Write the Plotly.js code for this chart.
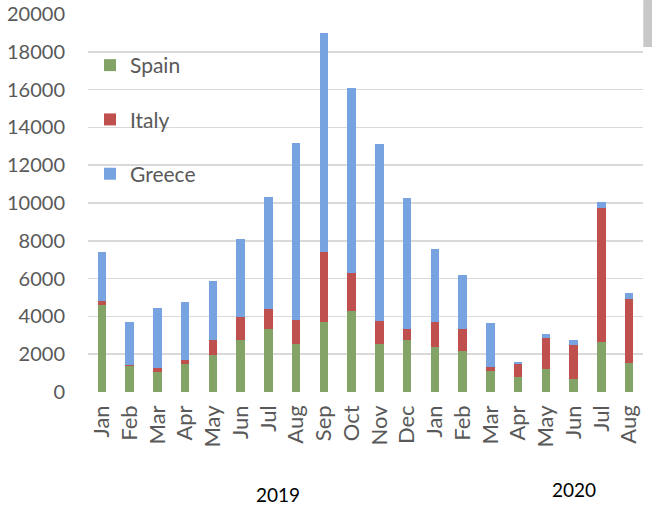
<!DOCTYPE html>
<html>
<head>
<meta charset="utf-8">
<script src="https://cdn.plot.ly/plotly-3.0.1.min.js"></script>
<style>html,body{margin:0;padding:0;background:#fff;}#chart{width:652px;height:510px;}</style>
</head>
<body>
<div id="chart"></div>
<script>
var months = ["Jan","Feb","Mar","Apr","May","Jun","Jul","Aug","Sep","Oct","Nov","Dec","Jan","Feb","Mar","Apr","May","Jun","Jul","Aug"];
var years = ["2019","2020"];
var spain  = [4600,1350,1040,1480,1970,2760,3330,2550,3700,4310,2540,2760,2360,2180,1090,810,1230,700,2670,1530];
var italy  = [190,60,230,230,760,1230,1060,1270,3700,2010,1230,570,1320,1180,230,670,1620,1800,7070,3380];
var greece = [2640,2320,3170,3050,3150,4090,5920,9340,11600,9760,9350,6920,3890,2840,2330,85,245,265,320,330];
var yTicks = [0,2000,4000,6000,8000,10000,12000,14000,16000,18000,20000];

var xIdx = months.map(function(m,i){return i;});
function bar(name, vals, color, grp){
  return {type:'bar', name:name, x:xIdx, y:vals, legendgroup:grp,
    marker:{color:color, line:{width:0}}, hoverinfo:'y+name'};
}
var data = [
  bar('Spain', spain, '#84a467', 'a'),
  bar('Italy', italy, '#c0504d', 'b'),
  bar('Greece', greece, '#77a4e1', 'c')
];
var font = "Lato, 'Open Sans', sans-serif";
var W = 554.7, H = 378.3, L = 88, T = 14;
function px(x){return (x-L)/W;}
function py(y){return 1-(y-T)/H;}
var layout = {
  width:652, height:510,
  margin:{l:L, r:652-L-W, t:T, b:510-T-H},
  paper_bgcolor:'#fff', plot_bgcolor:'#fff',
  barmode:'stack', bargap:0.7,
  font:{family:font, color:'#595959', size:20},
  showlegend:true,
  legend:{x:px(90), y:py(45), xanchor:'left', yanchor:'top', traceorder:'grouped', tracegroupgap:24,
    bgcolor:'rgba(0,0,0,0)', font:{family:font, size:21, color:'#595959'}, itemwidth:30},
  xaxis:{tickmode:'array', tickvals:xIdx, ticktext:months, tickangle:-90, range:[-0.5,19.5],
    showgrid:false, zeroline:false, showline:false, ticks:'', ticklabelstandoff:8,
    tickfont:{family:font,size:22,color:'#595959'}},
  yaxis:{range:[0,20000], tickmode:'array', tickvals:yTicks, ticktext:yTicks.map(String),
    showgrid:true, gridcolor:'#d9d9d9', gridwidth:1.6, zeroline:false, showline:false, ticks:'',
    ticklabelstandoff:22, tickfont:{family:font,size:20,color:'#595959'}},
  annotations:[
    {text:years[0], xref:'paper', yref:'paper', x:px(278), y:py(495), xanchor:'center', yanchor:'middle', showarrow:false, font:{family:font,size:19,color:'#000'}},
    {text:years[1], xref:'paper', yref:'paper', x:px(574), y:py(490), xanchor:'center', yanchor:'middle', showarrow:false, font:{family:font,size:19,color:'#000'}}
  ],
  shapes:[
    {type:'rect', xref:'paper', yref:'paper', x0:px(643), x1:px(652), y0:py(47), y1:py(0), fillcolor:'#c8c8c8', line:{width:0}, layer:'above'}
  ]
};
Plotly.newPlot('chart', data, layout, {displayModeBar:false, staticPlot:true});
</script>
</body>
</html>
